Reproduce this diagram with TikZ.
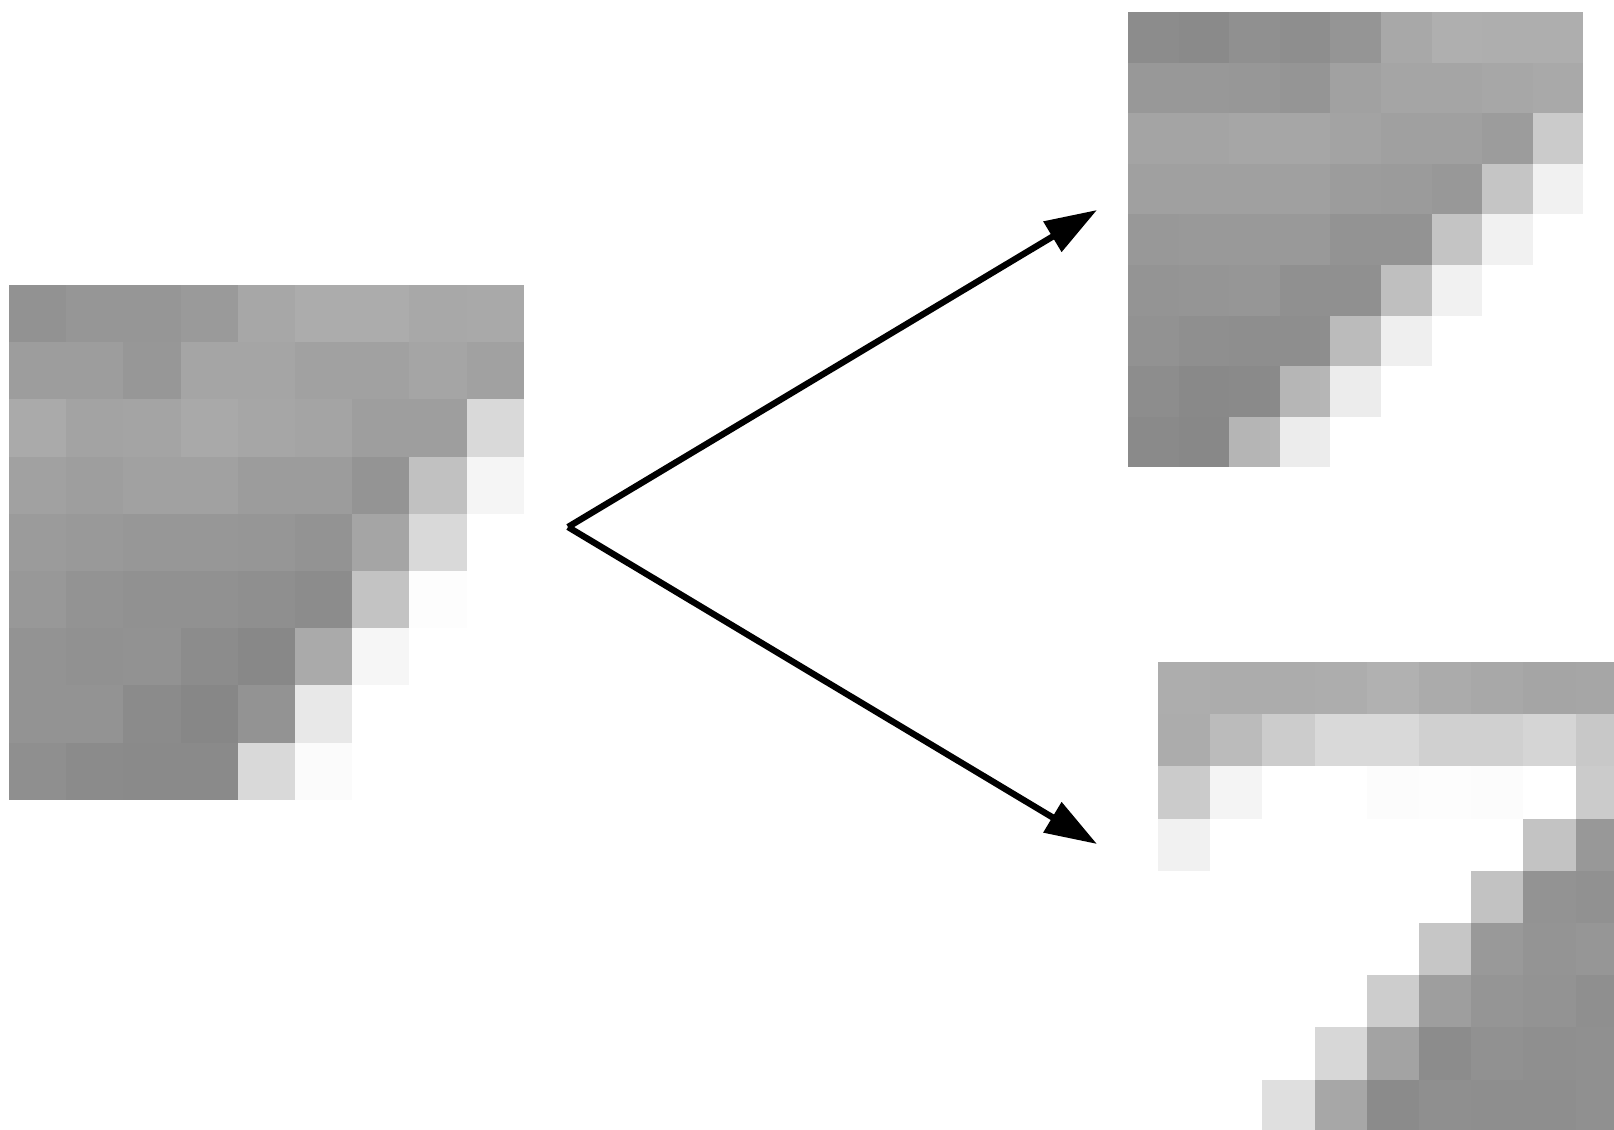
\documentclass[tikz,border=0pt]{standalone}
\usepackage{tikz}
\usetikzlibrary{arrows.meta}
\usepackage{xcolor}

% one grid of gray cells: x, y (top left), cell size, rows of gray levels
\newcommand{\pixgrid}[4]{%
  \foreach \pixrow [count=\r] in {#4} {
    \foreach \g [count=\c] in \pixrow {
      \fill[fill={rgb,255:red,\g;green,\g;blue,\g}]
        ({#1+(\c-1)*#3},{#2+(\r-1)*#3}) rectangle ++(#3,#3);
    }
  }
}

\begin{document}
\begin{tikzpicture}[
    x=0.01cm, y=-0.01cm,
    arr/.style={-{Triangle[length=5.2mm, width=3.4mm]}, line width=1.8pt, black},
]
\useasboundingbox (0,0) rectangle (1614,1130);
\clip (0,0) rectangle (1614,1130);

% input patch
\pixgrid{9}{285}{57.2}{
  {146,150,150,154,167,172,172,168,169},
  {157,157,151,165,165,161,161,165,161},
  {170,163,164,169,166,164,158,158,217},
  {161,158,161,161,156,156,148,193,245},
  {155,153,151,151,150,147,165,217,255},
  {152,147,145,145,143,140,195,253,255},
  {147,145,146,140,136,170,246,255,255},
  {147,147,139,135,147,232,255,255,255},
  {143,139,138,138,217,251,255,255,255}}

% upper patch
\pixgrid{1128}{12}{50.6}{
  {140,138,144,142,149,168,175,174,174},
  {152,152,151,149,161,165,165,167,169},
  {164,164,166,166,163,160,160,156,203},
  {160,160,160,160,156,155,152,197,241},
  {152,153,153,153,147,147,196,241,255},
  {148,149,150,144,144,191,241,255,255},
  {146,143,142,142,187,239,255,255,255},
  {141,137,138,182,236,255,255,255,255},
  {138,136,181,236,255,255,255,255,255}}

% lower patch
\pixgrid{1158}{662}{52.2}{
  {173,172,172,173,177,171,168,165,166},
  {172,187,204,217,217,208,208,213,200},
  {203,244,255,255,252,253,252,255,203},
  {241,255,255,255,255,255,255,195,152},
  {255,255,255,255,255,255,194,147,145},
  {255,255,255,255,255,198,153,148,150},
  {255,255,255,255,205,158,149,147,143},
  {255,255,255,215,163,140,145,143,144},
  {255,255,223,167,139,143,142,142,144}}

\coordinate (fork) at (568,527);
\coordinate (topend) at (1097,210);
\coordinate (bottomend) at (1097,844);

\draw[arr] (fork) -- (topend);
\draw[arr] (fork) -- (bottomend);

\end{tikzpicture}
\end{document}
